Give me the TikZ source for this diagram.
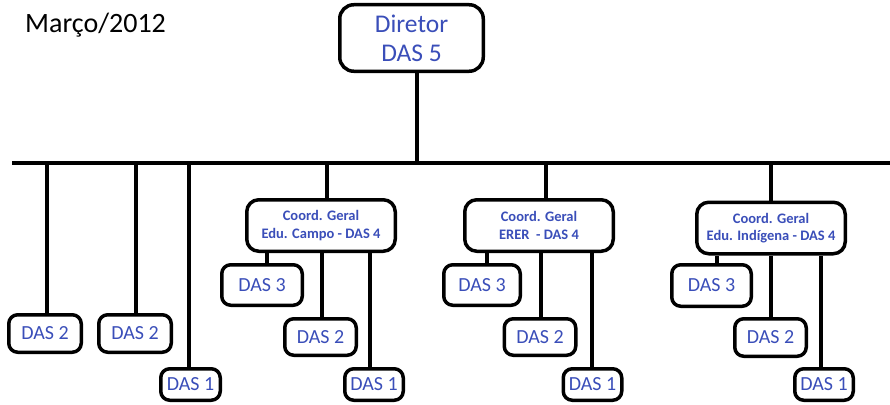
\documentclass[tikz,border=0pt]{standalone}
\usepackage{fontspec}
\setmainfont{Carlito}
\definecolor{dasblue}{RGB}{58,78,185}
\begin{document}
\begin{tikzpicture}[x=1pt,y=-1pt,
  box/.style={draw=black, line width=3.5pt, rounded corners=9pt, fill=white,
    text=dasblue, inner sep=0pt, align=center},
  das/.style={box, font=\fontsize{20}{22}\selectfont},
  coord/.style={box, rounded corners=12pt, minimum width=148.5pt, minimum height=51.5pt,
    font=\bfseries\fontsize{14.5}{17.5}\selectfont},
  wire/.style={line width=3.5pt}]
\useasboundingbox (0,0) rectangle (890,404);

% title
\node[anchor=base west, inner sep=0pt, font=\fontsize{28}{30}\selectfont] (title) at (25,33) {Março/2012};

% director
\node[box, rounded corners=14pt, minimum width=143.5pt, minimum height=66.5pt,
  font=\fontsize{25.5}{29}\selectfont] (dir) at (411.5,38) {Diretor\\DAS 5};

% main bus
\coordinate (bl) at (12,163);
\coordinate (br) at (890,163);
\draw[wire] (bl) -- (br);
\draw[wire] ([xshift=5.5pt]dir.south) -- ([xshift=5.5pt]dir.south |- bl);

% units directly under the director
\node[das, minimum width=72.5pt, minimum height=37.5pt] (a2) at (45,333.5) {DAS 2};
\node[das, minimum width=72.5pt, minimum height=37.5pt] (b2) at (135,333.5) {DAS 2};
\node[das, minimum width=59.5pt, minimum height=31.5pt] (c1) at (190.5,384.5) {DAS 1};
\draw[wire] ([xshift=2pt]a2.north) -- ([xshift=2pt]a2.north |- bl);
\draw[wire] ([xshift=1pt]b2.north) -- ([xshift=1pt]b2.north |- bl);
\draw[wire] ([xshift=-1.5pt]c1.north) -- ([xshift=-1.5pt]c1.north |- bl);

% general coordinations
\node[coord] (g1) at (321,225.5) {Coord. Geral\\Edu. Campo - DAS 4};
\node[coord] (g2) at (539,225.5) {Coord. Geral\\ERER~ - DAS 4};
\node[coord] (g3) at (771,228) {Coord. Geral\\Edu. Indígena - DAS 4};
\draw[wire] ([xshift=6pt]g1.north) -- ([xshift=6pt]g1.north |- bl);
\draw[wire] ([xshift=7pt]g2.north) -- ([xshift=7pt]g2.north |- bl);
\draw[wire] (g3.north) -- (g3.north |- bl);

% subordinate units of each coordination
\node[das, minimum width=80.5pt, minimum height=40.5pt] (g1d3) at (262,285) {DAS 3};
\node[das, minimum width=71.5pt, minimum height=36.5pt] (g1d2) at (320.5,337) {DAS 2};
\node[das, minimum width=58.5pt, minimum height=31.5pt] (g1d1) at (374,384.5) {DAS 1};

\node[das, minimum width=76.5pt, minimum height=40.5pt] (g2d3) at (482,285) {DAS 3};
\node[das, minimum width=71.5pt, minimum height=36.5pt] (g2d2) at (540,337) {DAS 2};
\node[das, minimum width=58.5pt, minimum height=31.5pt] (g2d1) at (592.5,384.5) {DAS 1};

\node[das, minimum width=79.5pt, minimum height=41.5pt] (g3d3) at (711.5,285.5) {DAS 3};
\node[das, minimum width=71.5pt, minimum height=37.5pt] (g3d2) at (770.5,337.5) {DAS 2};
\node[das, minimum width=58.5pt, minimum height=31.5pt] (g3d1) at (824,384.5) {DAS 1};

\draw[wire] ([xshift=5pt]g1d3.north) -- ([xshift=5pt]g1d3.north |- g1.south);
\draw[wire] ([xshift=1.5pt]g1d2.north) -- ([xshift=1.5pt]g1d2.north |- g1.south);
\draw[wire] ([xshift=-4pt]g1d1.north) -- ([xshift=-4pt]g1d1.north |- g1.south);

\draw[wire] ([xshift=5pt]g2d3.north) -- ([xshift=5pt]g2d3.north |- g2.south);
\draw[wire] ([xshift=1pt]g2d2.north) -- ([xshift=1pt]g2d2.north |- g2.south);
\draw[wire] ([xshift=-0.5pt]g2d1.north) -- ([xshift=-0.5pt]g2d1.north |- g2.south);

\draw[wire] ([xshift=5.5pt]g3d3.north) -- ([xshift=5.5pt]g3d3.north |- g3.south);
\draw[wire] ([xshift=0.5pt]g3d2.north) -- ([xshift=0.5pt]g3d2.north |- g3.south);
\draw[wire] ([xshift=-3pt]g3d1.north) -- ([xshift=-3pt]g3d1.north |- g3.south);
\end{tikzpicture}
\end{document}
